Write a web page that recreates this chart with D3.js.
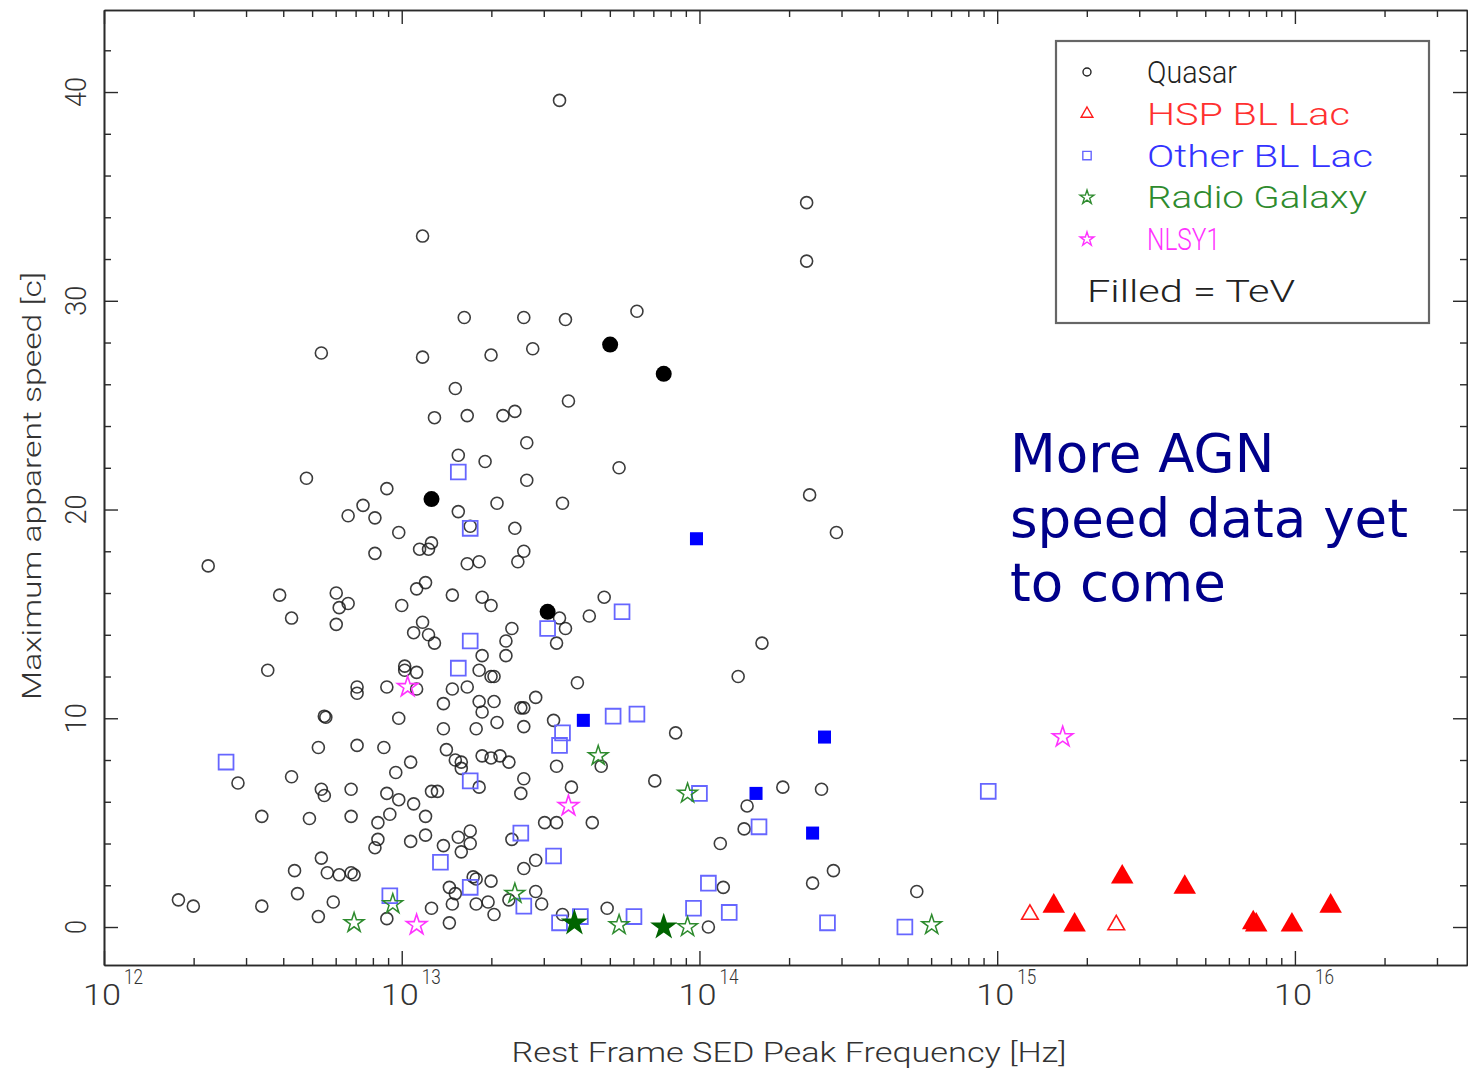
<!DOCTYPE html>
<html>
<head>
<meta charset="utf-8">
<script src="https://cdn.jsdelivr.net/npm/d3@7"></script>
<style>
  html, body { margin: 0; padding: 0; background: #fff; }
  svg { display: block; }
  text { font-family: Roboto, "DejaVu Sans", sans-serif; font-weight: 300; }
  text.note { font-family: "DejaVu Sans", sans-serif; font-weight: 400; }
</style>
</head>
<body>
<svg id="chart" width="1468" height="1070"></svg>
<script>
// Each point: [log10 of rest-frame SED peak frequency (Hz), maximum apparent speed (c)]
const quasar = [
  [13.53,39.6],[14.36,34.7],[14.36,31.9],[13.07,33.1],[13.79,29.5],[13.21,29.2],[13.41,29.2],[13.55,29.1],
  [12.73,27.5],[13.07,27.3],[13.30,27.4],[13.44,27.7],[13.18,25.8],[13.11,24.4],[13.22,24.5],[13.34,24.5],
  [13.38,24.7],[13.56,25.2],[13.42,23.2],[13.19,22.6],[13.28,22.3],[13.73,22.0],[12.68,21.5],[13.42,21.4],
  [12.95,21.0],[14.37,20.7],[13.32,20.3],[13.54,20.3],[12.87,20.2],[12.82,19.7],[12.91,19.6],[13.19,19.9],
  [13.23,19.2],[13.38,19.1],[12.99,18.9],[14.46,18.9],[13.10,18.4],[13.09,18.1],[13.06,18.1],[13.41,18.0],
  [13.39,17.5],[13.22,17.4],[13.26,17.5],[12.91,17.9],[12.35,17.3],[13.08,16.5],[13.05,16.2],[12.78,16.0],
  [12.59,15.9],[13.17,15.9],[13.27,15.8],[13.30,15.4],[13.00,15.4],[12.82,15.5],[12.79,15.3],[13.68,15.8],
  [13.63,14.9],[12.63,14.8],[13.53,14.8],[13.55,14.3],[12.78,14.5],[13.07,14.6],[13.04,14.1],[13.09,14.0],
  [13.11,13.6],[13.37,14.3],[13.35,13.7],[13.52,13.6],[14.21,13.6],[13.35,13.0],[13.27,13.0],[12.55,12.3],
  [13.01,12.5],[13.01,12.3],[13.05,12.2],[13.26,12.3],[13.30,12.0],[13.31,12.0],[14.13,12.0],[13.59,11.7],
  [12.85,11.5],[12.85,11.2],[12.95,11.5],[13.05,11.4],[13.17,11.4],[13.22,11.5],[13.45,11.0],[13.14,10.7],
  [13.26,10.8],[13.31,10.8],[13.27,10.3],[13.40,10.5],[13.41,10.5],[12.74,10.1],[12.745,10.05],[12.99,10.0],
  [13.51,9.9],[13.14,9.5],[13.25,9.5],[13.32,9.8],[13.41,9.6],[13.92,9.3],[12.72,8.6],[12.85,8.7],
  [12.94,8.6],[13.15,8.5],[13.18,8.0],[13.20,7.9],[13.20,7.6],[13.03,7.9],[13.27,8.2],[13.30,8.1],
  [13.33,8.2],[13.36,7.9],[13.52,7.7],[13.67,7.7],[12.98,7.4],[12.63,7.2],[12.45,6.9],[13.41,7.1],
  [13.40,6.4],[13.57,6.7],[13.85,7.0],[13.26,6.7],[13.10,6.5],[13.12,6.5],[12.73,6.6],[12.74,6.3],
  [12.83,6.6],[12.95,6.4],[12.99,6.1],[13.04,5.9],[14.28,6.7],[14.41,6.6],[14.16,5.8],[14.15,4.7],
  [12.53,5.3],[12.69,5.2],[12.83,5.3],[12.92,5.0],[12.96,5.4],[13.08,5.3],[13.48,5.0],[13.52,5.0],
  [13.64,5.0],[12.92,4.2],[12.91,3.8],[13.03,4.1],[13.08,4.4],[13.14,3.9],[13.19,4.3],[13.23,4.6],
  [13.23,4.0],[13.20,3.6],[13.37,4.2],[13.45,3.2],[13.41,2.8],[14.07,4.0],[14.45,2.7],[12.73,3.3],
  [12.64,2.7],[12.75,2.6],[12.79,2.5],[12.83,2.6],[12.84,2.5],[13.24,2.4],[13.25,2.3],[13.30,2.2],
  [13.16,1.9],[13.18,1.6],[13.17,1.1],[13.25,1.1],[13.29,1.2],[13.31,0.6],[13.36,1.3],[13.45,1.7],
  [13.47,1.1],[12.25,1.3],[12.30,1.0],[12.65,1.6],[12.53,1.0],[12.77,1.2],[12.72,0.5],[12.95,0.4],
  [13.10,0.9],[13.16,0.2],[13.54,0.6],[13.69,0.9],[14.03,0.0],[14.08,1.9],[14.38,2.1],[14.73,1.7]
];
const quasarTeV = [[13.10,20.5],[13.70,27.9],[13.88,26.5],[13.49,15.1]];

const hspBLLac = [[15.11,0.6],[15.40,0.1]];
const hspBLLacTeV = [[15.19,1.0],[15.26,0.1],[15.42,2.4],[15.63,1.9],[15.86,0.2],[15.87,0.1],[15.99,0.1],[16.12,1.0]];

const otherBLLac = [
  [12.41,7.9],[13.19,21.8],[13.23,19.1],[13.23,13.7],[13.49,14.3],[13.74,15.1],[13.19,12.4],[13.54,9.3],
  [13.53,8.7],[13.71,10.1],[13.79,10.2],[13.23,7.0],[14.00,6.4],[13.40,4.5],[13.13,3.1],[13.51,3.4],
  [13.23,1.9],[12.96,1.5],[13.41,1.0],[13.53,0.2],[13.60,0.5],[13.78,0.5],[13.98,0.9],[14.03,2.1],
  [14.10,0.7],[14.20,4.8],[14.43,0.2],[14.69,0.0],[14.97,6.5]
];
const otherBLLacTeV = [[13.99,18.6],[13.61,9.9],[14.42,9.1],[14.19,6.4],[14.38,4.5]];

const radioGalaxy = [[12.84,0.2],[12.97,1.1],[13.38,1.6],[13.66,8.2],[13.96,6.4],[13.73,0.1],[13.96,0.0],[14.78,0.1]];
const radioGalaxyTeV = [[13.58,0.2],[13.88,0.0]];

const nlsy1 = [[13.02,11.5],[13.05,0.1],[13.56,5.8],[15.22,9.1]];

const xDecades = [12, 13, 14, 15, 16];
const yTicks = [0, 10, 20, 30, 40];
const legendLabels = ["Quasar", "HSP BL Lac", "Other BL Lac", "Radio Galaxy", "NLSY1"];
const legendNote = "Filled = TeV";
const noteLines = ["More AGN", "speed data yet", "to come"];

// ---- layout ----
const svg = d3.select("#chart");
const L = 104, R = 1467, T = 10, B = 965;

const x = d3.scaleLog().domain([1e12, Math.pow(10, 16.578)]).range([L, R]);
const y = d3.scaleLinear().domain([-1.82, 43.93]).range([B, T]);
const px = d => x(Math.pow(10, d[0]));
const py = d => y(d[1]);

const axisColor = "#2a2a2a";

// minor tick values on the log axis (2..9 x each decade)
const minorX = [];
for (let e = 12; e <= 16; e++) for (let m = 2; m <= 9; m++) {
  const v = m * Math.pow(10, e);
  if (v < x.domain()[1]) minorX.push(v);
}
const majorX = xDecades.map(e => Math.pow(10, e));
const minorY = d3.range(0, 44, 2).filter(v => v % 10 !== 0);

function styleAxis(g) {
  g.select(".domain").attr("stroke", axisColor).attr("stroke-width", 1.6);
  g.selectAll(".tick line").attr("stroke", axisColor).attr("stroke-width", 1.4);
  g.selectAll(".tick text").remove();
}

// bottom and top axes (ticks point inward)
svg.append("g").attr("transform", `translate(0,${B})`)
  .call(d3.axisBottom(x).tickValues(majorX).tickSize(-14).tickSizeOuter(0)).call(styleAxis);
svg.append("g").attr("transform", `translate(0,${B})`)
  .call(d3.axisBottom(x).tickValues(minorX).tickSize(-7).tickSizeOuter(0)).call(styleAxis);
svg.append("g").attr("transform", `translate(0,${T})`)
  .call(d3.axisTop(x).tickValues(majorX).tickSize(-14).tickSizeOuter(0)).call(styleAxis);
svg.append("g").attr("transform", `translate(0,${T})`)
  .call(d3.axisTop(x).tickValues(minorX).tickSize(-7).tickSizeOuter(0)).call(styleAxis);

// left and right axes
svg.append("g").attr("transform", `translate(${L},0)`)
  .call(d3.axisLeft(y).tickValues(yTicks).tickSize(-14).tickSizeOuter(0)).call(styleAxis);
svg.append("g").attr("transform", `translate(${L},0)`)
  .call(d3.axisLeft(y).tickValues(minorY).tickSize(-7).tickSizeOuter(0)).call(styleAxis);
svg.append("g").attr("transform", `translate(${R},0)`)
  .call(d3.axisRight(y).tickValues(yTicks).tickSize(-14).tickSizeOuter(0)).call(styleAxis);
svg.append("g").attr("transform", `translate(${R},0)`)
  .call(d3.axisRight(y).tickValues(minorY).tickSize(-7).tickSizeOuter(0)).call(styleAxis);

// x tick labels: 10 with superscript exponent
const xl = svg.append("g").attr("fill", "#333");
xDecades.forEach(e => {
  const cx = x(Math.pow(10, e));
  xl.append("text").attr("x", cx - 2).attr("y", 1005).attr("text-anchor", "middle")
    .attr("font-size", 30).attr("textLength", 38).attr("lengthAdjust", "spacingAndGlyphs").text("10");
  xl.append("text").attr("x", cx + 20).attr("y", 984).attr("text-anchor", "start")
    .attr("font-size", 20).attr("textLength", 19).attr("lengthAdjust", "spacingAndGlyphs").text(String(e));
});

// y tick labels, rotated
yTicks.forEach(v => {
  const ty = y(v);
  svg.append("text").attr("transform", `translate(86,${ty}) rotate(-90)`)
    .attr("text-anchor", "middle").attr("font-size", 30).attr("fill", "#333")
    .attr("textLength", v === 0 ? 14 : 30).attr("lengthAdjust", "spacingAndGlyphs")
    .text(String(v));
});

// axis titles
svg.append("text").attr("x", 789).attr("y", 1062).attr("text-anchor", "middle")
  .attr("font-size", 27).attr("fill", "#333")
  .attr("textLength", 555).attr("lengthAdjust", "spacingAndGlyphs")
  .text("Rest Frame SED Peak Frequency [Hz]");
svg.append("text").attr("transform", "translate(41,486) rotate(-90)").attr("text-anchor", "middle")
  .attr("font-size", 25).attr("fill", "#333")
  .attr("textLength", 428).attr("lengthAdjust", "spacingAndGlyphs")
  .text("Maximum apparent speed [c]");

// ---- data marks ----
const colors = {
  quasar: "#1a1a1a",
  hsp: "#ff1a1a",
  other: "#6666ff",
  otherFill: "#0000ff",
  radio: "#2e8b2e",
  radioFill: "#006400",
  nlsy: "#ff33ff"
};

const marks = svg.append("g");

// open quasars
marks.append("g").selectAll("circle").data(quasar).join("circle")
  .attr("cx", px).attr("cy", py).attr("r", 6)
  .attr("fill", "none").attr("stroke", colors.quasar).attr("stroke-opacity", 0.85).attr("stroke-width", 1.6);

// open other BL Lac
marks.append("g").selectAll("path").data(otherBLLac).join("path")
  .attr("transform", d => `translate(${px(d)},${py(d)})`)
  .attr("d", d3.symbol(d3.symbolSquare, 220))
  .attr("fill", "none").attr("stroke", colors.other).attr("stroke-width", 1.8);

// open radio galaxies
marks.append("g").selectAll("path").data(radioGalaxy).join("path")
  .attr("transform", d => `translate(${px(d)},${py(d)})`)
  .attr("d", d3.symbol(d3.symbolStar, 120))
  .attr("fill", "none").attr("stroke", colors.radio).attr("stroke-width", 1.5);

// NLSY1
marks.append("g").selectAll("path").data(nlsy1).join("path")
  .attr("transform", d => `translate(${px(d)},${py(d)})`)
  .attr("d", d3.symbol(d3.symbolStar, 130))
  .attr("fill", "none").attr("stroke", colors.nlsy).attr("stroke-width", 1.6);

// open HSP BL Lac
marks.append("g").selectAll("path").data(hspBLLac).join("path")
  .attr("transform", d => `translate(${px(d)},${py(d)})`)
  .attr("d", d3.symbol(d3.symbolTriangle, 120))
  .attr("fill", "none").attr("stroke", colors.hsp).attr("stroke-width", 1.6);

// TeV (filled) marks
marks.append("g").selectAll("circle").data(quasarTeV).join("circle")
  .attr("cx", px).attr("cy", py).attr("r", 8).attr("fill", "#000");
marks.append("g").selectAll("path").data(otherBLLacTeV).join("path")
  .attr("transform", d => `translate(${px(d)},${py(d)})`)
  .attr("d", d3.symbol(d3.symbolSquare, 170)).attr("fill", colors.otherFill);
marks.append("g").selectAll("path").data(radioGalaxyTeV).join("path")
  .attr("transform", d => `translate(${px(d)},${py(d)})`)
  .attr("d", d3.symbol(d3.symbolStar, 230)).attr("fill", colors.radioFill);
marks.append("g").selectAll("path").data(hspBLLacTeV).join("path")
  .attr("transform", d => `translate(${px(d)},${py(d)})`)
  .attr("d", d3.symbol(d3.symbolTriangle, 220)).attr("fill", "#ff0000");

// ---- legend ----
const lg = svg.append("g");
lg.append("rect").attr("x", 1056).attr("y", 41).attr("width", 373).attr("height", 282)
  .attr("fill", "#fff").attr("stroke", "#666").attr("stroke-width", 2.2);

const legendRows = [
  { label: legendLabels[0], color: "#222", text: "#222", sym: null },
  { label: legendLabels[1], color: colors.hsp, text: "#ff3030", sym: d3.symbolTriangle, size: 60 },
  { label: legendLabels[2], color: colors.other, text: "#3333ff", sym: d3.symbolSquare, size: 70 },
  { label: legendLabels[3], color: colors.radio, text: "#2e8b2e", sym: d3.symbolStar, size: 60 },
  { label: legendLabels[4], color: colors.nlsy, text: "#ff33ff", sym: d3.symbolStar, size: 60 }
];
const legendTextLen = [90, 203, 226, 220, 73];
legendRows.forEach((r, i) => {
  const cy = 72 + i * 41.8;
  if (r.sym === null) {
    lg.append("circle").attr("cx", 1087).attr("cy", cy).attr("r", 4)
      .attr("fill", "none").attr("stroke", r.color).attr("stroke-width", 1.4);
  } else {
    lg.append("path").attr("transform", `translate(1087,${cy})`)
      .attr("d", d3.symbol(r.sym, r.size))
      .attr("fill", "none").attr("stroke", r.color).attr("stroke-width", 1.4);
  }
  lg.append("text").attr("x", 1147).attr("y", cy + 11).attr("font-size", 31)
    .attr("fill", r.text).attr("textLength", legendTextLen[i]).attr("lengthAdjust", "spacingAndGlyphs")
    .text(r.label);
});
lg.append("text").attr("x", 1087).attr("y", 302).attr("font-size", 31).attr("fill", "#222")
  .attr("textLength", 208).attr("lengthAdjust", "spacingAndGlyphs").text(legendNote);

// ---- annotation ----
const note = svg.append("text").attr("class", "note").attr("x", 1010).attr("y", 472)
  .attr("font-size", 53).attr("fill", "#00008b");
noteLines.forEach((s, i) => {
  note.append("tspan").attr("x", 1010).attr("dy", i === 0 ? 0 : 64.5).text(s);
});
</script>
</body>
</html>
